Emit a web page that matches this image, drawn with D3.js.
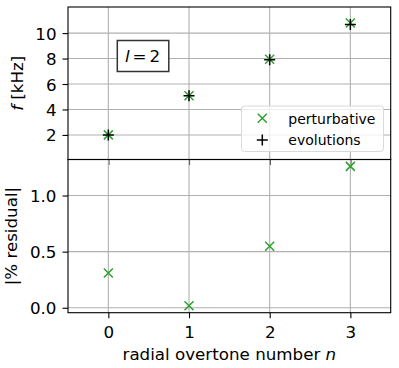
<!DOCTYPE html>
<html lang="en">
  <head>
    <meta charset="utf-8" />
    <title>Overtones</title>
    <style>
      body { margin: 0; background: #fff; }
      text { font-family: "DejaVu Sans", sans-serif; font-size: 16.7px; fill: #000; }
      .legend text { font-size: 14px; }
      .grid line { stroke: #b0b0b0; stroke-width: 1.1px; }
    </style>
  </head>
  <body>
    <div id="vis"></div>
    <script src="https://d3js.org/d3.v7.min.js"></script>
    <script>
      const overtones = [0, 1, 2, 3];
      const evolutions = [2.00, 5.08, 7.91, 10.67];
      const perturbative = [2.006, 5.081, 7.95, 10.80];
      const residual = [0.31, 0.018, 0.548, 1.26];
      const xTicks = [0, 1, 2, 3];
      const fTicks = [2, 4, 6, 8, 10];
      const resTicks = [0.0, 0.5, 1.0];
      const green = "#2ca02c";

      const W = 399, H = 368;
      const left = 68, right = 390.7;
      const top1 = 7, mid = 159.5, bot2 = 312.7;

      const svg = d3.select("#vis").append("svg").attr("width", W).attr("height", H);

      const x = d3.scaleLinear().domain([-0.5, 3.5]).range([left, right]);
      const yf = d3.scaleLinear().domain([0.07, 12.05]).range([mid, top1]);
      const yr = d3.scaleLinear().domain([-0.044, 1.321]).range([bot2, mid]);

      function cross(g, cx, cy, r, color) {
        g.append("path")
          .attr("d", `M${cx - r},${cy - r}L${cx + r},${cy + r}M${cx - r},${cy + r}L${cx + r},${cy - r}`)
          .attr("stroke", color).attr("stroke-width", 1.5).attr("fill", "none");
      }
      function plus(g, cx, cy, r, color) {
        g.append("path")
          .attr("d", `M${cx - r},${cy}L${cx + r},${cy}M${cx},${cy - r}L${cx},${cy + r}`)
          .attr("stroke", color).attr("stroke-width", 1.5).attr("fill", "none");
      }

      function panel(y, ticks, fmt, y0, y1, showX) {
        const g = svg.append("g");
        const grid = g.append("g").attr("class", "grid");
        grid.selectAll(".gx").data(xTicks).join("line")
          .attr("x1", d => x(d)).attr("x2", d => x(d)).attr("y1", y0).attr("y2", y1);
        grid.selectAll(".gy").data(ticks).join("line")
          .attr("x1", left).attr("x2", right).attr("y1", d => y(d)).attr("y2", d => y(d));
        const ay = g.append("g").attr("transform", `translate(${left},0)`)
          .call(d3.axisLeft(y).tickValues(ticks).tickFormat(fmt).tickSize(5.5).tickPadding(6));
        ay.select(".domain").remove();
        ay.selectAll("line").attr("stroke-width", 1.1);
        ay.selectAll("text").attr("dy", "0.36em");
        const ax = g.append("g").attr("transform", `translate(0,${y1})`)
          .call(d3.axisBottom(x).tickValues(xTicks).tickFormat(showX ? d3.format("d") : "").tickSize(5.5).tickPadding(7.5));
        ax.select(".domain").remove();
        ax.selectAll("line").attr("stroke-width", 1.1);
        return g;
      }

      const g1 = panel(yf, fTicks, d3.format("d"), top1, mid, false);
      const g2 = panel(yr, resTicks, d3.format(".1f"), mid, bot2, true);

      overtones.forEach((n, i) => {
        cross(g1, x(n), yf(perturbative[i]), 4.5, green);
        plus(g1, x(n), yf(evolutions[i]), 5.5, "#000");
        cross(g2, x(n), yr(residual[i]), 4.5, green);
      });

      // spines
      [[top1, mid], [mid, bot2]].forEach(([a, b]) => {
        svg.append("rect").attr("x", left).attr("y", a).attr("width", right - left).attr("height", b - a)
          .attr("fill", "none").attr("stroke", "#000").attr("stroke-width", 1.1);
      });

      // annotation box
      const ann = svg.append("g");
      ann.append("rect").attr("x", 117.3).attr("y", 40.5).attr("width", 51.5).attr("height", 31)
        .attr("fill", "#fff").attr("stroke", "#333").attr("stroke-width", 1.5);
      const at = ann.append("text").attr("x", 142.5).attr("y", 62).attr("text-anchor", "middle");
      at.append("tspan").attr("font-style", "italic").text("l");
      at.append("tspan").attr("dx", 3).text("=");
      at.append("tspan").attr("dx", 3).text("2");

      // legend
      const lg = svg.append("g").attr("class", "legend");
      lg.append("rect").attr("x", 241.5).attr("y", 106).attr("width", 142).attr("height", 45.5)
        .attr("rx", 3).attr("fill", "#fff").attr("fill-opacity", 0.8)
        .attr("stroke", "#d9d9d9").attr("stroke-width", 1);
      cross(lg, 262.3, 118.3, 4.5, green);
      plus(lg, 262.3, 140, 5.5, "#000");
      lg.append("text").attr("x", 288.3).attr("y", 123.5).text("perturbative");
      lg.append("text").attr("x", 288.3).attr("y", 144.5).text("evolutions");

      // axis labels
      const fl = svg.append("text").attr("transform", `translate(23,${(top1 + mid) / 2}) rotate(-90)`)
        .attr("text-anchor", "middle");
      fl.append("tspan").attr("font-style", "italic").text("f");
      fl.append("tspan").text(" [kHz]");
      svg.append("text").attr("transform", `translate(16.5,${(mid + bot2) / 2}) rotate(-90)`)
        .attr("text-anchor", "middle").text("|% residual|");
      const xl = svg.append("text").attr("x", (left + right) / 2).attr("y", 359.5).attr("text-anchor", "middle");
      xl.append("tspan").text("radial overtone number ");
      xl.append("tspan").attr("font-style", "italic").text("n");
    </script>
  </body>
</html>
